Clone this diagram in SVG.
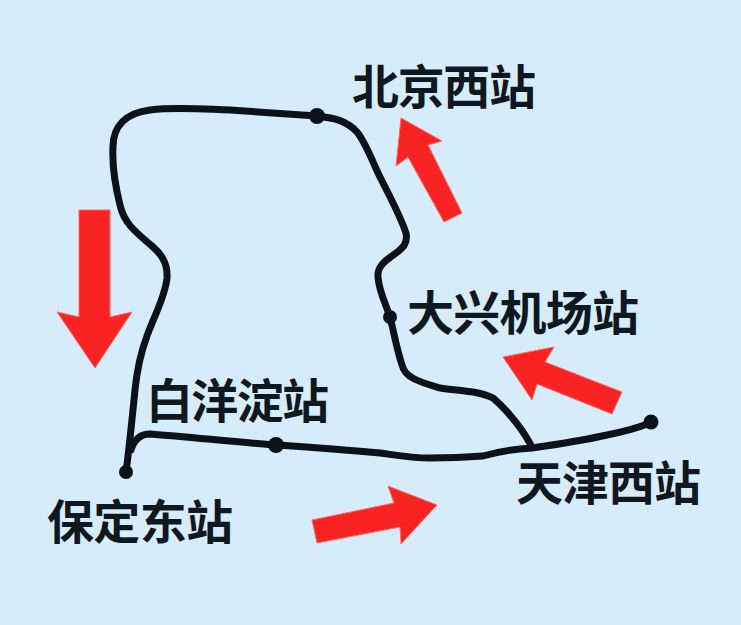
<svg xmlns="http://www.w3.org/2000/svg" width="741" height="625" viewBox="0 0 741 625">
  <style>
    .line{fill:none;stroke:#0b1219;stroke-width:7;stroke-linecap:round;stroke-linejoin:round}
    .dot{fill:#0b1219}
    .arrow{fill:#fa2323;stroke:#fb6a64;stroke-width:1}
    text{font-family:"Noto Sans CJK SC","Noto Sans",sans-serif;font-size:47px;font-weight:700;fill:#10181f}
  </style>
  <rect width="741" height="625" fill="#d6ecfb"/>
  <g id="connectors">
    <path class="line" d="M126 472 C129 450 132 420 135 390 C137 370 141 352 147 336 C153 318 165 298 167 278 C168 262 160 253 152 246 C138 234 124 224 120 205 C115 185 112 165 113 147 C113 126 126 113 150 110 C175 107 200 109 230 110 C260 112 290 114 317 116 C335 118 347 121 357 132 C366 143 373 163 380 177 C390 197 400 215 406 233 C408 243 403 248 396 253 C386 260 377 266 378 277 C379 292 386 304 390 317 C394 333 397 350 402 365 C405 378 420 382 440 388 C460 391 480 391 493 398 C505 408 520 426 528 440 L532 447"/>
    <path class="line" d="M131 450 C134 440 140 434 150 434 C190 437 235 442 276 445 C310 447 345 450 380 453 C395 455 410 458 430 458 C450 458 470 457 483 456 C500 451 515 449 532 448 C560 444 585 440 607 435 C622 432 635 429 650 423"/>
  </g>
  <g id="arrows">
    <polygon class="arrow" points="79,210 110,210 110,317 132,312 95,368 57,312 79,317"/>
    <polygon class="arrow" points="401,118 442,141 428,145 462,213 444,222 408,157 396,166"/>
    <polygon class="arrow" points="503,357 554,347 545,362 622,392 612,414 537,384 532,400"/>
    <polygon class="arrow" points="437,505 388,486 394,503 312,520 317,543 400,527 401,544"/>
  </g>
  <g id="station-beijingxi"><circle class="dot" cx="317" cy="116" r="8"/><text x="352" y="104" textLength="184">北京西站</text></g>
  <g id="station-daxing"><circle class="dot" cx="390" cy="317" r="7"/><text x="407" y="330" textLength="232">大兴机场站</text></g>
  <g id="station-baiyangdian"><circle class="dot" cx="276" cy="445" r="8"/><text x="146" y="418" textLength="183">白洋淀站</text></g>
  <g id="station-baodingdong"><circle class="dot" cx="126" cy="472" r="7"/><text x="47" y="539" textLength="186">保定东站</text></g>
  <g id="station-tianjinxi"><circle class="dot" cx="651" cy="422" r="7.5"/><text x="516" y="500" textLength="185">天津西站</text></g>
</svg>
